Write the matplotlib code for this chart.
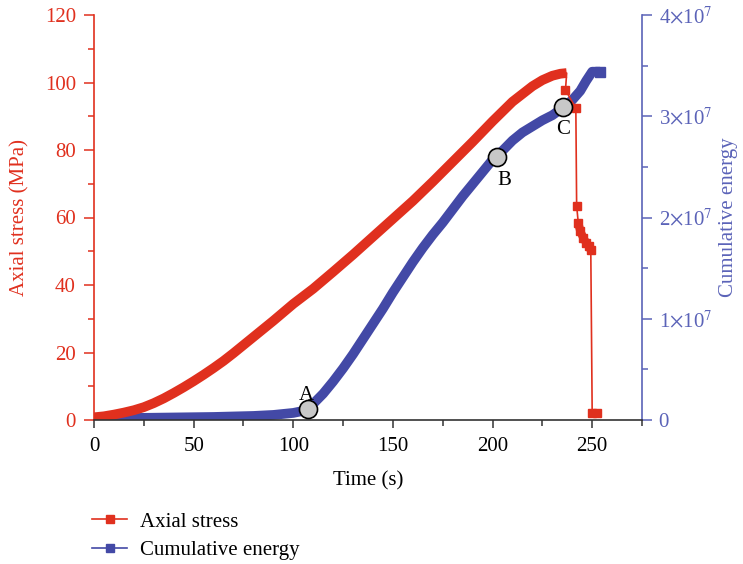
import matplotlib
matplotlib.use("Agg")
import matplotlib.pyplot as plt
from matplotlib.ticker import MultipleLocator, FuncFormatter
from matplotlib.lines import Line2D

plt.rcParams['font.family'] = ['Liberation Serif', 'DejaVu Serif']
plt.rcParams['mathtext.fontset'] = 'stix'

# ---- data ----
stress_t = [0, 5, 10, 15, 20, 25, 30, 35, 40, 45, 50, 55, 60, 65, 70, 75, 80, 85, 90, 95,
            100, 110, 120, 130, 140, 150, 160, 170, 180, 190, 200, 210, 220, 225, 230, 234, 237.2,
            236.6, 241.8, 242.2, 243.0, 244.0, 245.5, 247.0, 248.5, 249.3, 250.0, 252.5]
stress_v = [0.8, 1.1, 1.6, 2.2, 2.9, 3.8, 5.0, 6.4, 8.0, 9.7, 11.5, 13.4, 15.4, 17.5, 19.8, 22.2,
            24.6, 27.0, 29.4, 31.9, 34.4, 38.9, 43.9, 49.0, 54.3, 59.6, 64.9, 70.6, 76.5, 82.4,
            88.5, 94.3, 98.9, 100.7, 102.0, 102.6, 102.8,
            97.8, 92.3, 63.5, 58.5, 56.0, 54.0, 52.5, 51.5, 50.3, 2.0, 2.0]

energy_t = [0, 20, 40, 60, 80, 90, 100, 105, 107, 110, 115, 120, 125, 130, 135, 140, 145, 150,
            155, 160, 165, 170, 175, 180, 185, 190, 195, 200, 205, 210, 215, 220, 225, 230, 235,
            240, 244, 247, 250, 254]
energy_v = [0.02, 0.02, 0.025, 0.03, 0.04, 0.05, 0.07, 0.09, 0.11, 0.16, 0.26, 0.38, 0.51, 0.65,
            0.80, 0.95, 1.10, 1.26, 1.41, 1.56, 1.70, 1.83, 1.95, 2.08, 2.21, 2.33, 2.45, 2.57,
            2.66, 2.76, 2.84, 2.90, 2.96, 3.01, 3.08, 3.16, 3.25, 3.35, 3.44, 3.44]  # x 1e7

point_labels = ['A', 'B', 'C']
point_t = [107.2, 202.0, 235.5]
point_v = [0.11, 2.60, 3.09]  # x 1e7

x_ticks = [0, 50, 100, 150, 200, 250]
y_left_ticks = [0, 20, 40, 60, 80, 100, 120]
y_right_ticks = [0, 1, 2, 3, 4]

RED = '#e0301e'
BLUE_LINE = '#4349a6'
BLUE_AX = '#5b63b8'
FS = 15

fig = plt.figure(figsize=(7.43, 5.64), dpi=100)
ax = fig.add_axes([94/743, 1-420/564, (642-94)/743, (420-15)/564])
ax2 = ax.twinx()
ax.set_zorder(ax2.get_zorder() + 1)
ax.patch.set_visible(False)

# blue series
ax2.plot(energy_t, energy_v, color=BLUE_LINE, lw=7, solid_capstyle='butt', solid_joinstyle='round')
ax2.plot(energy_t[-1:], energy_v[-1:], 's', color=BLUE_LINE, ms=7)

# red series
peak = stress_v.index(max(stress_v))
ax.plot(stress_t, stress_v, color=RED, lw=1.2)
ax.plot(stress_t[:peak+1], stress_v[:peak+1], color=RED, lw=7, solid_capstyle='butt', solid_joinstyle='round')
tail0 = peak + 4
ax.plot(stress_t[tail0:tail0+6], stress_v[tail0:tail0+6], color=RED, lw=6, solid_capstyle='butt', solid_joinstyle='round')
ax.plot(stress_t[peak+1:], stress_v[peak+1:], 's', color=RED, ms=6)

# marked points
offsets = [(-0.5, 0.13), (4, -0.23), (0, -0.22)]
for lab, t, v, (dx, dy) in zip(point_labels, point_t, point_v, offsets):
    ax.plot([t], [v], 'o', ms=13, mfc='#c8c8c8', mec='black', mew=1.2, transform=ax2.transData, zorder=5)
    ax.text(t + dx, v + dy, lab, transform=ax2.transData, fontsize=FS, ha='center', va='center', zorder=6)

ax.set_xlim(0, 275)
ax.set_ylim(0, 120)
ax2.set_ylim(0, 4)
ax.set_xticks(x_ticks)
ax.set_yticks(y_left_ticks)
ax2.set_yticks(y_right_ticks)
ax.xaxis.set_minor_locator(MultipleLocator(25))
ax.yaxis.set_minor_locator(MultipleLocator(10))
ax2.yaxis.set_minor_locator(MultipleLocator(0.5))
ax2.yaxis.set_major_formatter(FuncFormatter(lambda v, p: '0' if v == 0 else r'%d$\times$10$^{7}$' % v))

ax.spines['top'].set_visible(False)
ax2.spines['top'].set_visible(False)
ax.spines['right'].set_visible(False)
ax2.spines['left'].set_visible(False)
ax2.spines['bottom'].set_visible(False)
ax.spines['left'].set_color(RED)
ax.spines['bottom'].set_color('#333333')
ax2.spines['right'].set_color(BLUE_AX)
for a in (ax, ax2):
    for sp in a.spines.values():
        sp.set_linewidth(1.2)

ax.tick_params(axis='y', which='both', colors=RED, labelsize=FS, direction='out')
ax.tick_params(axis='y', which='major', length=7, width=1.1, pad=6)
ax.tick_params(axis='y', which='minor', length=4, width=1.1)
ax.tick_params(axis='x', which='both', colors='#333333', labelcolor='black', labelsize=FS, direction='out')
ax.tick_params(axis='x', which='major', length=6, width=1.1, pad=6)
ax.tick_params(axis='x', which='minor', length=4, width=1.1)
ax2.tick_params(axis='y', which='both', colors=BLUE_AX, labelsize=FS, direction='out')
ax2.tick_params(axis='y', which='major', length=7, width=1.1, pad=5)
ax2.tick_params(axis='y', which='minor', length=4, width=1.1)

ax.set_xlabel('Time (s)', fontsize=FS, labelpad=11)
ax.set_ylabel('Axial stress (MPa)', fontsize=FS, color=RED, labelpad=11)
ax2.set_ylabel('Cumulative energy', fontsize=FS, color=BLUE_AX, labelpad=5)

handles = [Line2D([], [], color=RED, lw=1.2, marker='s', ms=6),
           Line2D([], [], color=BLUE_LINE, lw=1.2, marker='s', ms=6)]
fig.legend(handles, ['Axial stress', 'Cumulative energy'], loc='upper left',
           bbox_to_anchor=(92/743, 1-512/564), frameon=False, fontsize=FS,
           handlelength=1.7, handletextpad=0.6, borderpad=0, borderaxespad=0, labelspacing=0.42)

fig.savefig('out.png', dpi=100)
